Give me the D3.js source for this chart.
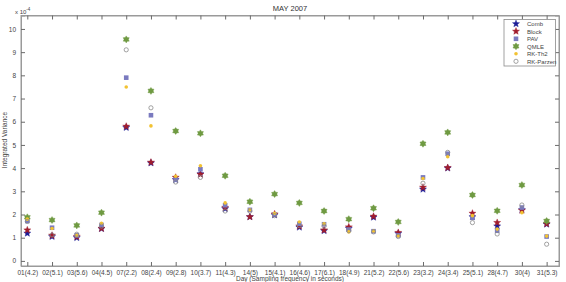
<!DOCTYPE html>
<html><head><meta charset="utf-8">
<script src="https://cdn.jsdelivr.net/npm/d3@7"></script>
<style>body{margin:0;background:#fff}svg{display:block;font-family:"Liberation Sans",Arial,sans-serif}</style>
</head><body><svg id="c" width="566" height="282"></svg>
<script>
const days = ["01(4.2)","02(5.1)","03(5.6)","04(4.5)","07(2.2)","08(2.4)","09(2.8)","10(3.7)","11(4.3)","14(5)","15(4.1)","16(4.6)","17(6.1)","18(4.9)","21(5.2)","22(5.6)","23(3.2)","24(3.4)","25(5.1)","28(4.7)","30(4)","31(5.3)"];
const comb    = [1.19,1.05,1.00,1.39,5.75,4.22,3.50,3.75,2.25,1.90,1.98,1.45,1.30,1.40,1.88,1.18,3.09,4.00,1.90,1.50,2.20,1.58];
const block   = [1.33,1.10,1.05,1.40,5.80,4.25,3.60,3.73,2.30,1.90,2.02,1.50,1.33,1.46,1.92,1.22,3.17,4.02,2.05,1.65,2.18,1.60];
const pav     = [1.72,1.43,1.10,1.55,7.90,6.28,3.50,3.95,2.40,2.20,2.00,1.60,1.58,1.35,1.28,1.10,3.60,4.62,1.86,1.30,2.30,1.05];
const qmle    = [1.88,1.76,1.53,2.08,9.55,7.33,5.60,5.50,3.67,2.55,2.88,2.50,2.15,1.80,2.27,1.68,5.05,5.54,2.84,2.16,3.27,1.72];
const rkth2   = [1.80,1.40,1.10,1.62,7.50,5.82,3.65,4.10,2.50,2.20,2.05,1.68,1.60,1.25,1.29,1.08,3.55,4.49,1.95,1.37,2.08,1.07];
const rkparz  = [1.70,1.12,1.15,1.50,9.10,6.60,3.40,3.60,2.15,2.15,1.95,1.52,1.50,1.30,1.25,1.05,3.35,4.68,1.65,1.16,2.41,0.72];
const yTicks = [0,1,2,3,4,5,6,7,8,9,10];
const seriesNames = ["Comb","Block","PAV","QMLE","RK-Th2","RK-Parzen"];

const series = [
  {name:"Comb", vals:comb, sym:"star", fill:"#1c1c96", stroke:"#1c1c96"},
  {name:"Block", vals:block, sym:"star", fill:"#a11d2d", stroke:"#a11d2d"},
  {name:"PAV", vals:pav, sym:"square", fill:"#7a7abf", stroke:"#7a7abf"},
  {name:"QMLE", vals:qmle, sym:"hex", fill:"#6f9a42", stroke:"#6f9a42"},
  {name:"RK-Th2", vals:rkth2, sym:"dot", fill:"#f2c232", stroke:"#f2c232"},
  {name:"RK-Parzen", vals:rkparz, sym:"circle", fill:"none", stroke:"#8a8a8a"}
];

const svg = d3.select("#c");
const L=21, R=559, T=15.5, B=266;
const x = d3.scaleLinear().domain([0.745,22.5]).range([L,R]);
const y = d3.scaleLinear().domain([-0.22,10.58]).range([B,T]);
const axCol = "#6a6a6a", txtCol = "#444";

svg.append("rect").attr("x",L).attr("y",T).attr("width",R-L).attr("height",B-T)
  .attr("fill","none").attr("stroke","#9a9a9a").attr("stroke-width",1);

const idx = d3.range(1,days.length+1);
const xb = svg.append("g").attr("transform",`translate(0,${B})`)
  .call(d3.axisBottom(x).tickValues(idx).tickFormat(i=>days[i-1]).tickSize(-4).tickPadding(4));
const xt = svg.append("g").attr("transform",`translate(0,${T})`)
  .call(d3.axisTop(x).tickValues(idx).tickFormat("").tickSize(-4));
const yl = svg.append("g").attr("transform",`translate(${L},0)`)
  .call(d3.axisLeft(y).tickValues(yTicks).tickSize(-4).tickPadding(5));
const yr = svg.append("g").attr("transform",`translate(${R},0)`)
  .call(d3.axisRight(y).tickValues(yTicks).tickFormat("").tickSize(-4));
[xb,xt,yl,yr].forEach(g=>{
  g.select(".domain").attr("stroke","#9a9a9a");
  g.selectAll(".tick line").attr("stroke",axCol);
  g.selectAll("text").attr("fill",txtCol).style("font-size","6.5px").style("font-family","Liberation Sans, Arial, sans-serif");
});

function star(n, ro, ri){
  const pts=[];
  for(let k=0;k<2*n;k++){const r=k%2?ri:ro;const a=Math.PI*k/n - Math.PI/2;pts.push([r*Math.cos(a),r*Math.sin(a)]);}
  return "M"+pts.map(p=>p.join(",")).join("L")+"Z";
}
function symPath(s){
  if(s==="star") return star(5,3.7,1.6);
  if(s==="hex") return star(6,3.5,2.2);
  return null;
}
function drawSym(g, s, cx, cy){
  if(s.sym==="square") g.append("rect").attr("x",cx-2.3).attr("y",cy-2.3).attr("width",4.6).attr("height",4.6).attr("fill",s.fill);
  else if(s.sym==="dot") g.append("circle").attr("cx",cx).attr("cy",cy).attr("r",1.8).attr("fill",s.fill);
  else if(s.sym==="circle") g.append("circle").attr("cx",cx).attr("cy",cy).attr("r",2.1).attr("fill","none").attr("stroke",s.stroke).attr("stroke-width",0.8);
  else g.append("path").attr("d",symPath(s.sym)).attr("transform",`translate(${cx},${cy})`).attr("fill",s.fill).attr("stroke",s.stroke).attr("stroke-width",0.4);
}
series.forEach(s=>{
  const g = svg.append("g");
  s.vals.forEach((v,i)=>drawSym(g,s,x(i+1),y(v)));
});

svg.append("text").attr("x",290).attr("y",11).attr("text-anchor","middle").attr("fill","#333")
  .style("font-size","7.5px").text("MAY 2007");
svg.append("text").attr("x",290).attr("y",280.5).attr("text-anchor","middle").attr("fill",txtCol)
  .style("font-size","6.5px").text("Day (Sampling frequency in seconds)");
svg.append("text").attr("transform","translate(7,140) rotate(-90)").attr("text-anchor","middle").attr("fill",txtCol)
  .style("font-size","6.5px").text("Integrated Variance");
const ex = svg.append("text").attr("x",15).attr("y",14).attr("fill",txtCol).style("font-size","6px");
ex.append("tspan").text("x 10");
ex.append("tspan").attr("dy",-3).style("font-size","4.5px").text("-4");

const lg = svg.append("g");
lg.append("rect").attr("x",504).attr("y",19.5).attr("width",51.5).attr("height",46.5)
  .attr("fill","#fff").attr("stroke","#8a8a8a").attr("stroke-width",0.8);
series.forEach((s,i)=>{
  const cy = 23.8 + i*7.5;
  drawSym(lg, s, 516, cy);
  lg.append("text").attr("x",527).attr("y",cy+2.2).attr("fill",txtCol).style("font-size","6px").text(seriesNames[i]);
});
</script></body></html>
